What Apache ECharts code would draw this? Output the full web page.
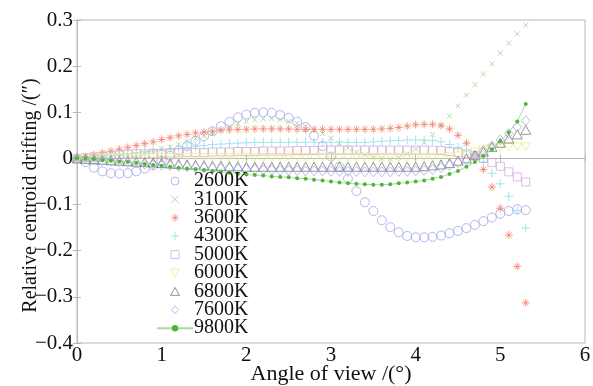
<!DOCTYPE html>
<html>
<head>
<meta charset="utf-8">
<script src="https://cdn.jsdelivr.net/npm/echarts@6/dist/echarts.min.js"></script>
<style>
  html, body { margin: 0; padding: 0; background: #fff; }
  #main { width: 593px; height: 386px; }
</style>
</head>
<body>
<div id="main"></div>
<script>
var angles = [0, 0.1, 0.2, 0.3, 0.4, 0.5, 0.6, 0.7, 0.8, 0.9,
  1.0, 1.1, 1.2, 1.3, 1.4, 1.5, 1.6, 1.7, 1.8, 1.9,
  2.0, 2.1, 2.2, 2.3, 2.4, 2.5, 2.6, 2.7, 2.8, 2.9,
  3.0, 3.1, 3.2, 3.3, 3.4, 3.5, 3.6, 3.7, 3.8, 3.9,
  4.0, 4.1, 4.2, 4.3, 4.4, 4.5, 4.6, 4.7, 4.8, 4.9,
  5.0, 5.1, 5.2, 5.3];

var names = ['2600K', '3100K', '3600K', '4300K', '5000K', '6000K', '6800K', '7600K', '9800K'];

var k2600 = [0, -0.008, -0.02, -0.028, -0.032, -0.033, -0.032, -0.028, -0.022, -0.015,
  -0.005, 0.006, 0.017, 0.027, 0.038, 0.048, 0.059, 0.07, 0.079, 0.089,
  0.095, 0.099, 0.1, 0.099, 0.094, 0.088, 0.08, 0.068, 0.049, 0.027,
  0.004, -0.018, -0.044, -0.071, -0.095, -0.114, -0.134, -0.149, -0.16, -0.168,
  -0.171, -0.171, -0.17, -0.167, -0.162, -0.157, -0.151, -0.144, -0.136, -0.128,
  -0.12, -0.114, -0.11, -0.112];

var k3100 = [0, 0, 0.001, 0.002, 0.003, 0.004, 0.006, 0.008, 0.011, 0.015,
  0.02, 0.025, 0.031, 0.037, 0.043, 0.049, 0.055, 0.062, 0.069, 0.075,
  0.08, 0.084, 0.086, 0.086, 0.084, 0.08, 0.076, 0.07, 0.062, 0.054,
  0.044, 0.033, 0.023, 0.014, 0.008, 0.003, 0, -0.001, 0.002, 0.01,
  0.02, 0.035, 0.052, 0.072, 0.092, 0.114, 0.137, 0.16, 0.183, 0.205,
  0.228, 0.25, 0.27, 0.289];

var k3600 = [0, 0.004, 0.008, 0.012, 0.016, 0.02, 0.024, 0.028, 0.032, 0.036,
  0.041, 0.045, 0.049, 0.052, 0.055, 0.057, 0.059, 0.061, 0.062, 0.063,
  0.063, 0.064, 0.064, 0.064, 0.064, 0.064, 0.063, 0.063, 0.063, 0.063,
  0.063, 0.063, 0.063, 0.063, 0.063, 0.063, 0.064, 0.065, 0.067, 0.07,
  0.073, 0.074, 0.074, 0.071, 0.064, 0.05, 0.033, 0.006, -0.024, -0.062,
  -0.108, -0.166, -0.234, -0.313];

var k4300 = [0, 0.001, 0.002, 0.004, 0.006, 0.008, 0.01, 0.012, 0.014, 0.016,
  0.018, 0.02, 0.022, 0.024, 0.026, 0.028, 0.03, 0.031, 0.032, 0.033,
  0.034, 0.035, 0.035, 0.035, 0.035, 0.035, 0.035, 0.035, 0.035, 0.035,
  0.035, 0.035, 0.035, 0.035, 0.035, 0.036, 0.037, 0.038, 0.039, 0.04,
  0.04, 0.04, 0.039, 0.036, 0.03, 0.024, 0.016, 0.006, -0.008, -0.032,
  -0.055, -0.082, -0.113, -0.151];

var k5000 = [0, 0.002, 0.003, 0.005, 0.006, 0.008, 0.009, 0.01, 0.01, 0.011,
  0.011, 0.012, 0.012, 0.013, 0.013, 0.013, 0.014, 0.014, 0.014, 0.015,
  0.015, 0.015, 0.016, 0.016, 0.016, 0.016, 0.017, 0.017, 0.017, 0.018,
  0.018, 0.018, 0.018, 0.018, 0.018, 0.018, 0.018, 0.018, 0.018, 0.018,
  0.018, 0.018, 0.018, 0.017, 0.015, 0.013, 0.01, 0.006, 0, -0.009,
  -0.017, -0.029, -0.04, -0.051];

var k6000 = [0, 0.001, 0.001, 0.001, 0.002, 0.002, 0.002, 0.002, 0.002, 0.002,
  0.002, 0.002, 0.002, 0.002, 0.002, 0.002, 0.002, 0.002, 0.002, 0.002,
  0.002, 0.002, 0.002, 0.002, 0.002, 0.002, 0.002, 0.002, 0.002, 0.002,
  0.002, 0.002, 0.002, 0.002, 0.002, 0.002, 0.002, 0.002, 0.002, 0.002,
  0.002, 0.002, 0.002, 0.002, 0.003, 0.005, 0.009, 0.014, 0.019, 0.022,
  0.024, 0.025, 0.025, 0.025];

var k6800 = [0, -0.001, -0.002, -0.003, -0.004, -0.005, -0.006, -0.007, -0.008, -0.009,
  -0.01, -0.011, -0.012, -0.013, -0.014, -0.015, -0.016, -0.016, -0.017, -0.017,
  -0.018, -0.018, -0.018, -0.018, -0.018, -0.018, -0.018, -0.018, -0.018, -0.018,
  -0.018, -0.018, -0.018, -0.018, -0.018, -0.018, -0.018, -0.018, -0.018, -0.018,
  -0.018, -0.017, -0.015, -0.013, -0.01, -0.005, 0, 0.007, 0.015, 0.025,
  0.034, 0.043, 0.052, 0.062];

var k7600 = [0, -0.001, -0.003, -0.004, -0.006, -0.007, -0.009, -0.01, -0.012, -0.013,
  -0.015, -0.016, -0.017, -0.018, -0.019, -0.02, -0.021, -0.022, -0.022, -0.023,
  -0.024, -0.024, -0.025, -0.025, -0.026, -0.026, -0.026, -0.027, -0.027, -0.027,
  -0.028, -0.028, -0.028, -0.028, -0.029, -0.029, -0.029, -0.029, -0.028, -0.028,
  -0.027, -0.026, -0.024, -0.02, -0.015, -0.009, -0.002, 0.007, 0.017, 0.027,
  0.04, 0.054, 0.068, 0.082];

var k9800 = [0, -0.001, -0.002, -0.004, -0.005, -0.007, -0.008, -0.01, -0.012, -0.014,
  -0.016, -0.018, -0.02, -0.022, -0.023, -0.025, -0.027, -0.029, -0.031, -0.033,
  -0.035, -0.036, -0.037, -0.039, -0.04, -0.041, -0.043, -0.044, -0.046, -0.048,
  -0.05, -0.052, -0.054, -0.055, -0.056, -0.057, -0.057, -0.056, -0.054, -0.052,
  -0.05, -0.048, -0.044, -0.04, -0.034, -0.027, -0.018, -0.008, 0.005, 0.02,
  0.037, 0.057, 0.08, 0.118];

var xTicks = [0, 1, 2, 3, 4, 5, 6];
var yTicks = [-0.4, -0.3, -0.2, -0.1, 0, 0.1, 0.2, 0.3];

var serif = 'Liberation Serif';
var frame = '#b8b8b8';

function pairs(ys) {
    return angles.map(function (a, i) { return [a, ys[i]]; });
}

function yLabel(v) {
    var s = (Math.round(v * 10) / 10).toString();
    return s.replace('-', '\u2212');
}

function hollow(name, ys, symbol, size, color) {
    return {
        name: name,
        type: 'scatter',
        data: pairs(ys),
        symbol: symbol,
        symbolSize: size,
        symbolKeepAspect: true,
        itemStyle: {color: 'rgba(255,255,255,0)', borderColor: color, borderWidth: 1},
        z: 2
    };
}

// markers drawn as paths so legend icons keep their shape
var crossPath = 'path://M0,0L10,10M10,0L0,10';
var plusPath = 'path://M5,0L5,10M0,5L10,5';
var starPath = 'path://M5,0L5,10M0,5L10,5M1.6,1.6L8.4,8.4M8.4,1.6L1.6,8.4';
var squarePath = 'path://M0,0L10,0L10,10L0,10Z';
var downTri = 'path://M0,0L10,0L5,9Z';
var upTri = 'path://M5,0L10,9L0,9Z';
var diamondPath = 'path://M5,0L10,6L5,12L0,6Z';

var series = [
    hollow(names[0], k2600, 'circle', 9, '#9ea6ea'),
    hollow(names[1], k3100, crossPath, 5, '#9fd48a'),
    hollow(names[2], k3600, starPath, 8, '#f2806a'),
    hollow(names[3], k4300, plusPath, 9, '#8cdde8'),
    hollow(names[4], k5000, squarePath, 8, '#d6a8de'),
    hollow(names[5], k6000, downTri, 9, '#ecec7a'),
    hollow(names[6], k6800, upTri, 10, '#7a7a7a'),
    hollow(names[7], k7600, diamondPath, 10, '#a6acee'),
    {
        name: names[8],
        type: 'line',
        data: pairs(k9800),
        symbol: 'circle',
        symbolSize: 4,
        showAllSymbol: true,
        itemStyle: {color: '#4fb635'},
        lineStyle: {color: '#a9dc98', width: 1},
        z: 3
    }
];

var legendData = names.map(function (n, i) {
    return i < 8 ? {name: n, itemStyle: {borderWidth: 1}} : {name: n};
});

var chart = echarts.init(document.getElementById('main'), null, {renderer: 'canvas'});
chart.setOption({
    animation: false,
    backgroundColor: '#fff',
    grid: {left: 77, right: 8, top: 20, bottom: 43, show: true, borderColor: frame, borderWidth: 1,
        containLabel: false, outerBoundsMode: 'none'},
    legend: {
        orient: 'vertical',
        left: 151,
        top: 166,
        data: legendData,
        itemWidth: 36,
        itemHeight: 8,
        itemGap: -1.6,
        symbolKeepAspect: true,
        textStyle: {fontFamily: serif, fontSize: 20, color: '#111', padding: [0, 0, 0, -4]}
    },
    xAxis: [{
        type: 'value',
        min: 0, max: 6, interval: 1,
        name: 'Angle of view /(\u00b0)',
        nameLocation: 'middle',
        nameGap: 20,
        nameMoveOverlap: false,
        nameTextStyle: {fontFamily: serif, fontSize: 22, color: '#111'},
        axisLine: {lineStyle: {color: frame}},
        axisTick: {inside: true, length: 4, lineStyle: {color: frame}},
        axisLabel: {fontFamily: serif, fontSize: 21, color: '#111', margin: 2,
            formatter: function (v) { return xTicks.indexOf(v) >= 0 ? String(v) : ''; }},
        splitLine: {show: false}
    }, {
        type: 'value', position: 'top',
        min: 0, max: 6, interval: 1,
        axisLine: {lineStyle: {color: frame}},
        axisTick: {inside: true, length: 4, lineStyle: {color: frame}},
        axisLabel: {show: false},
        splitLine: {show: false}
    }],
    yAxis: [{
        type: 'value',
        min: -0.4, max: 0.3, interval: 0.1,
        name: 'Relative centroid drifting /(\u2033)',
        nameLocation: 'middle',
        nameGap: 36,
        nameMoveOverlap: false,
        nameTextStyle: {fontFamily: serif, fontSize: 20, color: '#111', padding: [0, 28, 0, 0]},
        axisLine: {show: true, lineStyle: {color: frame}},
        axisTick: {show: true, inside: true, length: 4, lineStyle: {color: frame}},
        axisLabel: {fontFamily: serif, fontSize: 21, color: '#111', margin: 4, formatter: yLabel},
        splitLine: {show: false}
    }, {
        type: 'value', position: 'right',
        min: -0.4, max: 0.3, interval: 0.1,
        axisLine: {show: true, lineStyle: {color: frame}},
        axisTick: {show: true, inside: true, length: 4, lineStyle: {color: frame}},
        axisLabel: {show: false},
        splitLine: {show: false}
    }],
    series: series
});
</script>
</body>
</html>
